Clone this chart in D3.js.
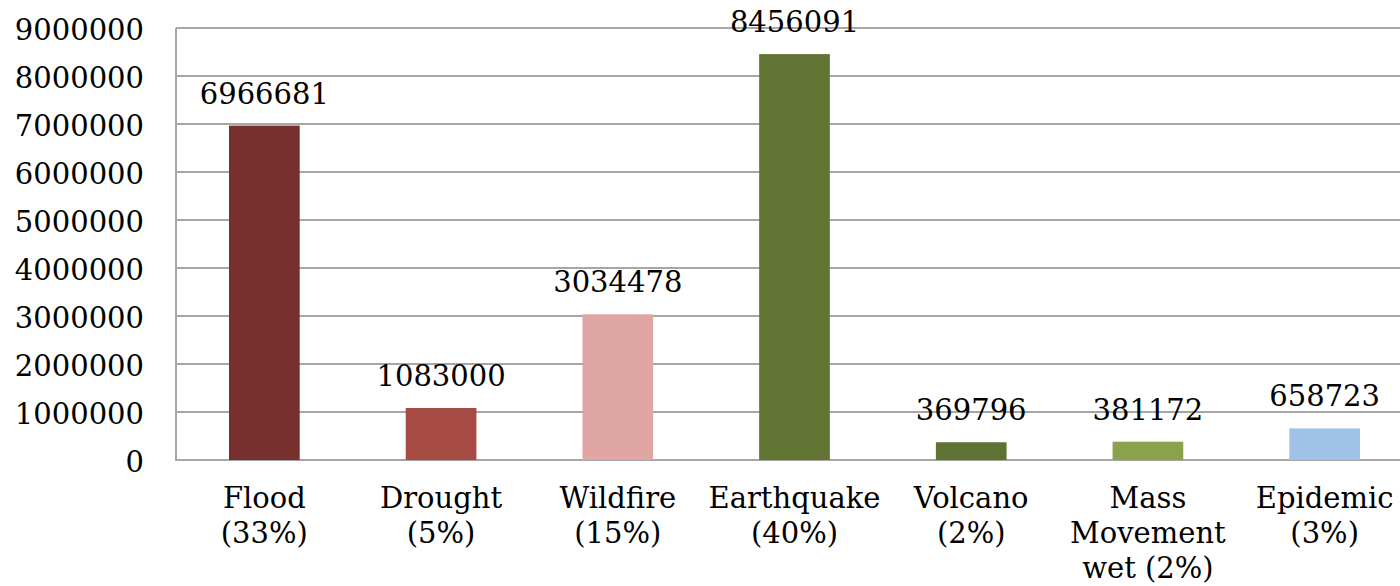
<!DOCTYPE html>
<html>
<head>
<meta charset="utf-8">
<script src="https://cdn.jsdelivr.net/npm/d3@7"></script>
<style>
  body { margin: 0; background: #fff; }
  svg { display: block; }
  text { font-family: "DejaVu Serif", "Liberation Serif", serif; fill: #000; }
</style>
</head>
<body>
<div id="chart"></div>
<script>
// categories (each entry is the lines of the axis label)
const categories = [
    ['Flood', '(33%)'],
    ['Drought', '(5%)'],
    ['Wildfire', '(15%)'],
    ['Earthquake', '(40%)'],
    ['Volcano', '(2%)'],
    ['Mass', 'Movement', 'wet (2%)'],
    ['Epidemic', '(3%)']
];
const values = [6966681, 1083000, 3034478, 8456091, 369796, 381172, 658723];
const barColors = ['#772f2d', '#a64a44', '#e0a6a4', '#617434', '#5f7233', '#8ba24c', '#9fc2e8'];
const yTicks = [0, 1000000, 2000000, 3000000, 4000000, 5000000, 6000000, 7000000, 8000000, 9000000];

const width = 1400;
const height = 586;
const fontSize = 29;

const svg = d3.select('#chart')
    .append('svg')
    .attr('width', width)
    .attr('height', height);

const x = d3.scaleBand()
    .domain(d3.range(categories.length))
    .range([176, 1413])
    .paddingInner(0.6)
    .paddingOuter(0.3);

const y = d3.scaleLinear()
    .domain([0, 9000000])
    .range([460, 28]);

// horizontal grid lines
svg.append('g')
    .selectAll('line')
    .data(yTicks)
    .enter()
    .append('line')
    .attr('x1', 176)
    .attr('x2', width)
    .attr('y1', d => y(d))
    .attr('y2', d => y(d))
    .attr('stroke', '#a6a6a6')
    .attr('stroke-width', 2);

// y axis line
svg.append('line')
    .attr('x1', 176)
    .attr('x2', 176)
    .attr('y1', y(9000000))
    .attr('y2', y(0) + 1)
    .attr('stroke', '#a6a6a6')
    .attr('stroke-width', 2);

// y tick labels
svg.append('g')
    .selectAll('text')
    .data(yTicks)
    .enter()
    .append('text')
    .attr('x', 144)
    .attr('y', d => y(d) + 12)
    .attr('text-anchor', 'end')
    .attr('font-size', fontSize + 'px')
    .text(d => d);

// bars
svg.append('g')
    .selectAll('rect')
    .data(values)
    .enter()
    .append('rect')
    .attr('x', (d, i) => x(i))
    .attr('y', d => y(d))
    .attr('width', x.bandwidth())
    .attr('height', d => y(0) - y(d))
    .attr('fill', (d, i) => barColors[i]);

// value labels
svg.append('g')
    .selectAll('text')
    .data(values)
    .enter()
    .append('text')
    .attr('x', (d, i) => x(i) + x.bandwidth() / 2)
    .attr('y', d => y(d) - 22)
    .attr('text-anchor', 'middle')
    .attr('font-size', fontSize + 'px')
    .text(d => d);

// category labels
const catLabel = svg.append('g')
    .selectAll('text')
    .data(categories)
    .enter()
    .append('text')
    .attr('text-anchor', 'middle')
    .attr('font-size', fontSize + 'px');

catLabel.selectAll('tspan')
    .data((d, i) => d.map(line => ({ line, i })))
    .enter()
    .append('tspan')
    .attr('x', d => x(d.i) + x.bandwidth() / 2)
    .attr('y', (d, j) => 508 + j * 35)
    .text(d => d.line);
</script>
</body>
</html>
